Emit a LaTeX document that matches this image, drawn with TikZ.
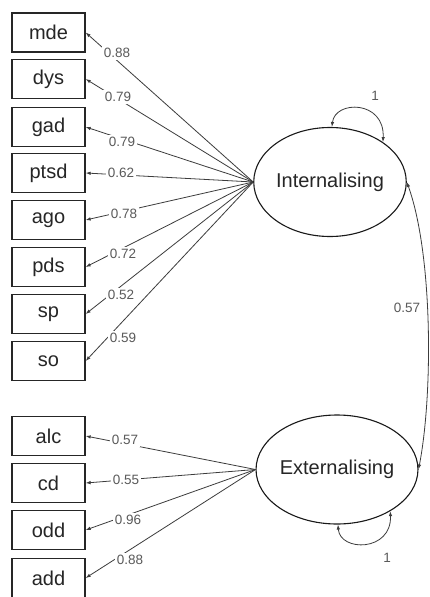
\documentclass[tikz,border=0pt]{standalone}
\usepackage{fontspec}
\setmainfont{Liberation Sans}
\usetikzlibrary{shapes.geometric,arrows.meta}
\definecolor{lncol}{HTML}{3C3C3C}
\definecolor{lblcol}{HTML}{5A5A5A}
\tikzset{
  obs/.style={draw=black!85, line width=1.3pt, minimum width=73pt, minimum height=39pt, inner sep=0pt, font=\fontsize{20}{22}\selectfont, text=black!85},
  lat/.style={ellipse, draw=black!90, line width=1.1pt, minimum width=152pt, minimum height=109pt, inner sep=0pt, font=\fontsize{20}{22}\selectfont, text=black!85},
  load/.style={draw=lncol, line width=0.8pt, -{Latex[length=5pt,width=3.5pt]}},
  cov/.style={draw=lncol, line width=0.8pt, {Latex[length=5pt,width=3.5pt]}-{Latex[length=5pt,width=3.5pt]}},
  lbl/.style={fill=white, inner sep=2pt, text=lblcol, font=\fontsize{13.5}{15}\selectfont},
  lblp/.style={inner sep=1pt, text=lblcol, font=\fontsize{13.5}{15}\selectfont}
}
\begin{document}
\begin{tikzpicture}[x=1pt,y=-1pt]
\useasboundingbox[fill=white] (0,0) rectangle (429,597);
% observed boxes
\node[obs] (mde)  at (48.5,32.5) {mde};
\node[obs] (dys)  at (48.5,79)   {dys};
\node[obs] (gad)  at (48.5,127)  {gad};
\node[obs] (ptsd) at (48.5,173)  {ptsd};
\node[obs] (ago)  at (48.5,220)  {ago};
\node[obs] (pds)  at (48.5,267)  {pds};
\node[obs] (sp)   at (48.5,314)  {sp};
\node[obs] (so)   at (48.5,361)  {so};
\node[obs] (alc)  at (48.5,436)  {alc};
\node[obs] (cd)   at (48.5,483)  {cd};
\node[obs] (odd)  at (48.5,530)  {odd};
\node[obs] (add)  at (48.5,578)  {add};
% latent
\node[lat] (Int) at (330,182) {Internalising};
\node[lat] (Ext) at (337,469.5) {Externalising};
% loadings internalising
\draw[load] (Int.west) -- (mde.east);
\draw[load] (Int.west) -- (dys.east);
\draw[load] (Int.west) -- (gad.east);
\draw[load] (Int.west) -- (ptsd.east);
\draw[load] (Int.west) -- (ago.east);
\draw[load] (Int.west) -- (pds.east);
\draw[load] (Int.west) -- (sp.east);
\draw[load] (Int.west) -- (so.east);
% loadings externalising
\draw[load] (Ext.west) -- (alc.east);
\draw[load] (Ext.west) -- (cd.east);
\draw[load] (Ext.west) -- (odd.east);
\draw[load] (Ext.west) -- (add.east);
% loading labels
\node[lbl] (l1)  at (117,53)  {0.88};
\node[lbl] (l2)  at (118,97)  {0.79};
\node[lbl] (l3)  at (122,142) {0.79};
\node[lbl] (l4)  at (121,173) {0.62};
\node[lbl] (l5)  at (124,214) {0.78};
\node[lbl] (l6)  at (123,254) {0.72};
\node[lbl] (l7)  at (121,295) {0.52};
\node[lbl] (l8)  at (123,338) {0.59};
\node[lbl] (l9)  at (125,440) {0.57};
\node[lbl] (l10) at (126,480) {0.55};
\node[lbl] (l11) at (128,520) {0.96};
\node[lbl] (l12) at (130,560) {0.88};
% covariance
\draw[cov] (Int.east) .. controls (433,255) and (433,395) .. (Ext.east);
\node[lblp] (covlbl) at (407,308) {0.57};
% variances
\draw[cov] (Int.88) .. controls (335,100) and (385,100) .. (Int.37);
\node[lblp] (v1) at (375,96) {1};
\draw[cov] (Ext.-89) .. controls (340,552) and (392,552) .. (Ext.-38);
\node[lblp] (v2) at (387,558) {1};
\end{tikzpicture}
\end{document}
